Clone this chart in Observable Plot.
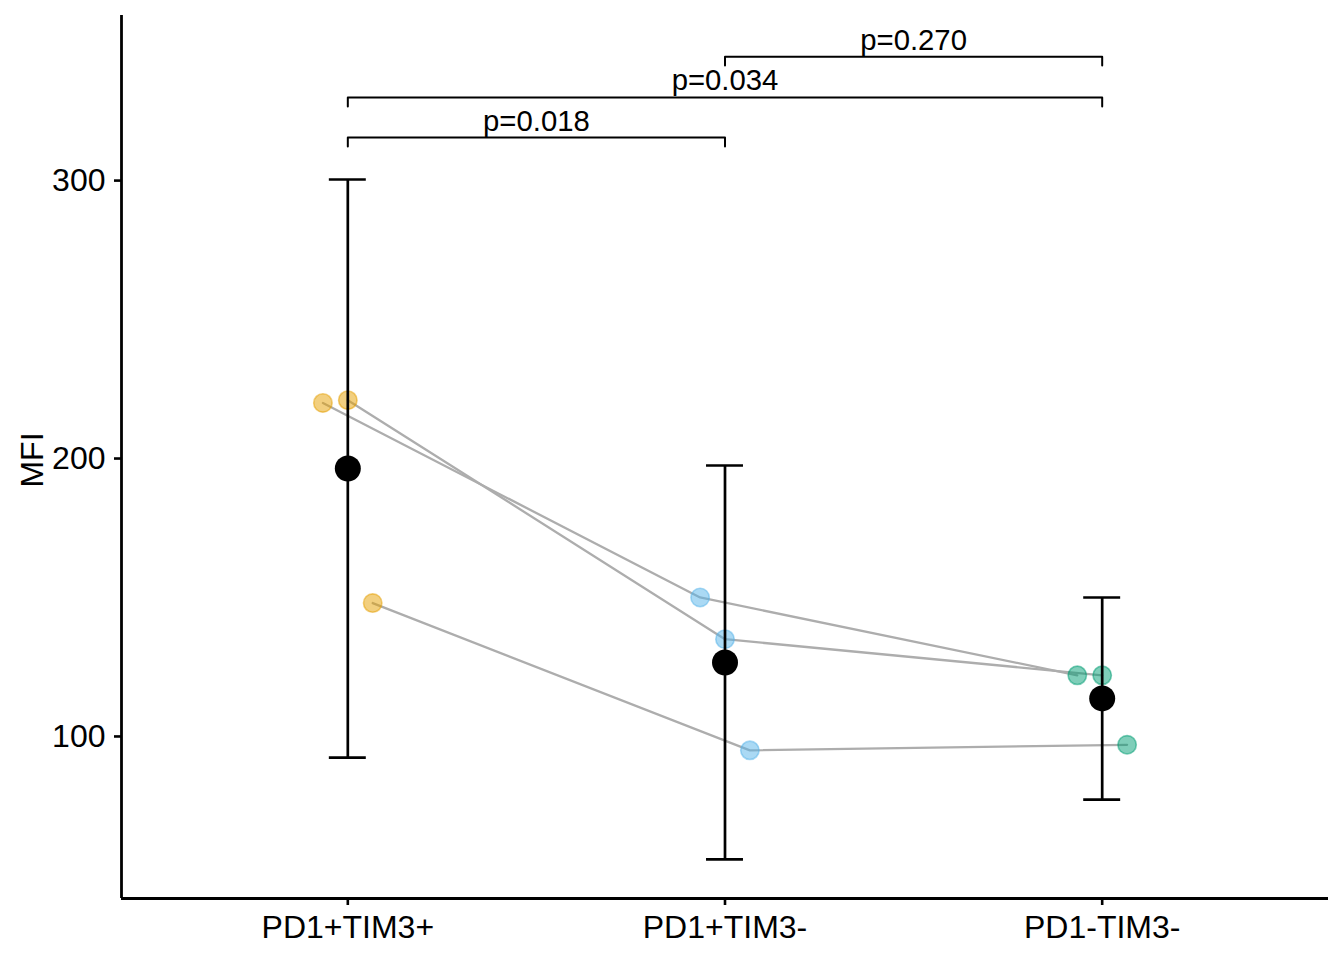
<!DOCTYPE html>
<html><head><meta charset="utf-8">
<script src="https://cdn.jsdelivr.net/npm/d3@7"></script>
<script src="https://cdn.jsdelivr.net/npm/@observablehq/plot@0.6"></script>
<style>html,body{margin:0;padding:0;background:#fff} svg{display:block}</style>
</head><body><div id="chart"></div>
<script>
const groups = ["PD1+TIM3+", "PD1+TIM3-", "PD1-TIM3-"];
const groupColors = ["#E69F00", "#56B4E9", "#009E73"];
const subjects = ["S1", "S2", "S3"];
const subjectOffset = [-0.066, 0, 0.066];
const mfiPD1posTIM3pos = [220, 221, 148];
const mfiPD1posTIM3neg = [150, 135, 95];
const mfiPD1negTIM3neg = [122, 122, 97];
const groupMean = [196.4, 126.6, 113.7];
const ciLow = [92.4, 55.8, 77.3];
const ciHigh = [300.4, 197.5, 150.0];
const yTicks = [100, 200, 300];
const compareFrom = [1, 1, 2];
const compareTo = [2, 3, 3];
const compareY = [315.5, 329.9, 344.6];
const compareLabel = ["p=0.018", "p=0.034", "p=0.270"];
const tipLength = 3.2;
const capHalf = 0.049;

const valuesByGroup = [mfiPD1posTIM3pos, mfiPD1posTIM3neg, mfiPD1negTIM3neg];
const points = [];
valuesByGroup.forEach((vals, g) => vals.forEach((v, s) => points.push({
  group: groups[g], gi: g + 1, subject: subjects[s], x: g + 1 + subjectOffset[s], value: v
})));
const summary = groups.map((g, i) => ({group: g, gi: i + 1, mean: groupMean[i], low: ciLow[i], high: ciHigh[i]}));
const brackets = compareLabel.map((lab, k) => ({k, from: compareFrom[k], to: compareTo[k], y: compareY[k], label: lab}));
const bracketPath = brackets.flatMap(b => [
  {k: b.k, x: b.from, y: b.y - tipLength},
  {k: b.k, x: b.from, y: b.y},
  {k: b.k, x: b.to, y: b.y},
  {k: b.k, x: b.to, y: b.y - tipLength}
]);

const chart = Plot.plot({
  width: 1344, height: 960,
  marginLeft: 121, marginRight: 16, marginTop: 15, marginBottom: 62,
  style: {fontFamily: "'Liberation Sans', Arial, sans-serif", background: "#fff", color: "#000"},
  x: {type: "linear", domain: [0.4, 3.6]},
  y: {domain: [41.7, 359.4]},
  color: {domain: groups, range: groupColors},
  marks: [
    Plot.axisY({ticks: yTicks, tickSize: 7, tickPadding: 9, fontSize: 32, strokeWidth: 2.6, label: null}),
    Plot.axisX({ticks: [1, 2, 3], tickFormat: i => groups[i - 1], tickSize: 7, tickPadding: 10, fontSize: 32, strokeWidth: 2.6, label: null}),
    Plot.ruleX([0.4], {stroke: "#000", strokeWidth: 2.8}),
    Plot.ruleY([41.7], {stroke: "#000", strokeWidth: 2.8}),
    Plot.line(points, {x: "x", y: "value", z: "subject", stroke: "#adadad", strokeWidth: 2.3}),
    Plot.dot(points, {x: "x", y: "value", r: 9.2, fill: "group", fillOpacity: 0.5, stroke: "group", strokeOpacity: 0.5, strokeWidth: 1.6}),
    Plot.ruleX(summary, {x: "gi", y1: "low", y2: "high", stroke: "#000", strokeWidth: 2.7}),
    Plot.ruleY(summary, {y: "low", x1: d => d.gi - capHalf, x2: d => d.gi + capHalf, stroke: "#000", strokeWidth: 2.7}),
    Plot.ruleY(summary, {y: "high", x1: d => d.gi - capHalf, x2: d => d.gi + capHalf, stroke: "#000", strokeWidth: 2.7}),
    Plot.dot(summary, {x: "gi", y: "mean", r: 13, fill: "#000"}),
    Plot.line(bracketPath, {x: "x", y: "y", z: "k", stroke: "#000", strokeWidth: 2}),
    Plot.text(brackets, {x: d => (d.from + d.to) / 2, y: "y", text: "label", dy: -7, lineAnchor: "bottom", fontSize: 29.3}),
    Plot.text(["MFI"], {frameAnchor: "left", textAnchor: "middle", dx: -89, dy: 3, rotate: -90, fontSize: 32, lineAnchor: "middle"})
  ]
});
document.getElementById("chart").appendChild(chart);
</script>
</body></html>
